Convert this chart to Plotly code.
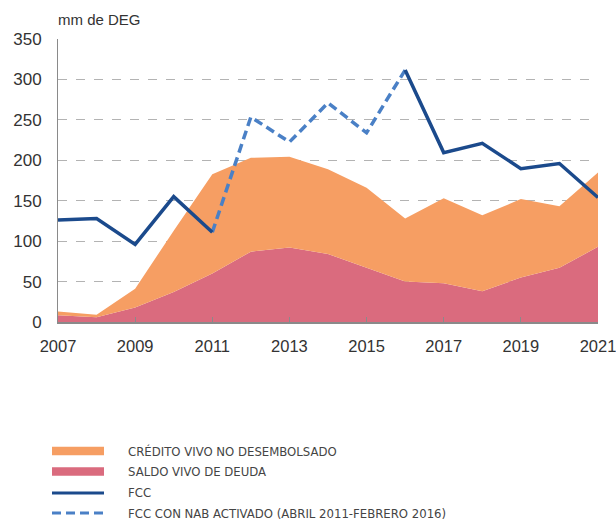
import plotly.graph_objects as go

years = list(range(2007, 2022))
saldo_vivo = [8.5, 6, 18, 37, 60, 87, 92, 84, 67, 50, 48, 38, 55, 67, 93]
credito_no_desembolsado = [4.5, 3, 23, 76, 122.6, 116, 112.5, 105, 99, 78, 105, 94, 97, 76, 92]
fcc = [126, 128, 96, 155, 111, None, None, None, None, 311.6, 209.5, 221, 189.7, 196, 154]
nab_years = [2011, 2012, 2013, 2014, 2015, 2016]
fcc_nab = [111, 253.5, 222.6, 271, 234, 311.6]

y_ticks = [0, 50, 100, 150, 200, 250, 300, 350]
x_ticks = [2007, 2009, 2011, 2013, 2015, 2017, 2019, 2021]

ORANGE = "#F69E63"
PINK = "#DA6B7E"
DARK_BLUE = "#1B4A8C"
LIGHT_BLUE = "#4A80C6"
TEXT = "#333333"

legend_labels = [
    "CRÉDITO VIVO NO DESEMBOLSADO",
    "SALDO VIVO DE DEUDA",
    "FCC",
    "FCC CON NAB ACTIVADO (ABRIL 2011-FEBRERO 2016)",
]

fig = go.Figure()
fig.add_trace(go.Scatter(x=years, y=saldo_vivo, stackgroup="one", mode="none",
                         fillcolor=PINK, name=legend_labels[1], showlegend=False))
fig.add_trace(go.Scatter(x=years, y=credito_no_desembolsado, stackgroup="one", mode="none",
                         fillcolor=ORANGE, name=legend_labels[0], showlegend=False))
fig.add_trace(go.Scatter(x=nab_years, y=fcc_nab, mode="lines",
                         line=dict(color=LIGHT_BLUE, width=3.5, dash="9px,5px"),
                         name=legend_labels[3], showlegend=False))
fig.add_trace(go.Scatter(x=years, y=fcc, mode="lines", connectgaps=False,
                         line=dict(color=DARK_BLUE, width=3.5),
                         name=legend_labels[2], showlegend=False))

# plot area geometry in pixels
W, H = 616, 520
L, R, T, B = 58, 598, 39, 322


def px_x(px):
    return (px - L) / (R - L)


def px_y(py):
    return (B - py) / (B - T)


shapes = []
annotations = []
legend_rows = [(451, "rect", ORANGE), (471.5, "rect", PINK), (493, "line", DARK_BLUE), (513, "dash", LIGHT_BLUE)]
for (yc, kind, col), lab in zip(legend_rows, legend_labels):
    if kind == "rect":
        shapes.append(dict(type="rect", xref="paper", yref="paper",
                           x0=px_x(52), x1=px_x(104), y0=px_y(yc - 4.3), y1=px_y(yc + 4.3),
                           fillcolor=col, line=dict(width=0)))
    else:
        shapes.append(dict(type="line", xref="paper", yref="paper",
                           x0=px_x(52), x1=px_x(104), y0=px_y(yc), y1=px_y(yc),
                           line=dict(color=col, width=3, dash="9px,5px" if kind == "dash" else "solid")))
    annotations.append(dict(xref="paper", yref="paper", x=px_x(126), y=px_y(yc),
                            xanchor="left", yanchor="middle", showarrow=False, text=lab,
                            font=dict(family="Liberation Sans Narrow, DejaVu Sans Condensed, sans-serif",
                                      size=13, color="#444444")))

annotations.append(dict(xref="paper", yref="paper", x=px_x(56), y=px_y(20), xanchor="left",
                        yanchor="middle", showarrow=False, text="mm de DEG",
                        font=dict(family="Liberation Sans, Arial, sans-serif", size=15, color=TEXT)))

fig.update_layout(
    width=W, height=H,
    margin=dict(l=L, r=W - R, t=T, b=H - B, autoexpand=False),
    paper_bgcolor="white", plot_bgcolor="white",
    font=dict(family="Liberation Sans, Arial, sans-serif", color=TEXT),
    showlegend=False,
    shapes=shapes,
    annotations=annotations,
)
fig.update_xaxes(range=[2007, 2021], tickvals=x_ticks, ticktext=[str(v) for v in x_ticks],
                 showgrid=False, zeroline=False, showline=True, linecolor="#8a8a8a", linewidth=2,
                 ticks="inside", ticklen=5, tickcolor="#8a8a8a", tickwidth=1,
                 tickfont=dict(size=16.5, color=TEXT), ticklabelstandoff=8,
                 ticklabeloverflow="allow", automargin=False)
fig.update_yaxes(range=[0, 350], tickvals=y_ticks, showgrid=True, gridcolor="#b3b3b3",
                 griddash="dash", gridwidth=1, zeroline=False, showline=True,
                 linecolor="#8a8a8a", linewidth=1, ticks="", tickfont=dict(size=17, color=TEXT),
                 ticklabelstandoff=12, automargin=False)

fig.write_html("out.html", config={"displayModeBar": False},
               post_script="document.body.style.margin='0';")
